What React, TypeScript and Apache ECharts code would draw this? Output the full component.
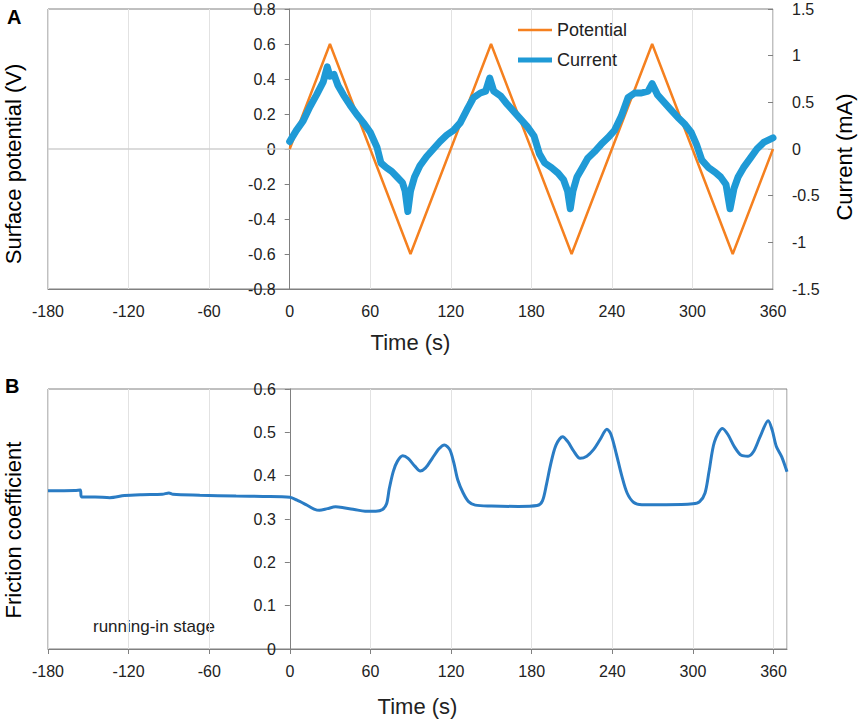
import React, { useEffect, useRef } from 'react';
import * as echarts from 'echarts';

// ---- Panel A data ----
const potentialTime = [0, 30, 90, 150, 210, 270, 330, 360];
const potentialValue = [0, 0.6, -0.6, 0.6, -0.6, 0.6, -0.6, 0];

const currentTime = [
  0, 5, 10, 15, 20, 25, 28, 30, 33, 36, 40, 45, 50, 55, 60, 65, 68, 72, 76, 80, 84, 86, 88, 90, 93, 97,
  102, 107, 112, 117, 122, 127, 132, 137, 142, 146, 149, 152, 157, 162, 167, 172, 177, 182, 186, 190,
  195, 200, 204, 207, 209, 211, 214, 218, 222, 227, 232, 237, 242, 247, 252, 257, 262, 267, 270, 274,
  279, 284, 289, 294, 299, 303, 307, 312, 317, 321, 325, 328, 331, 334, 338, 343, 348, 353, 360,
];
const currentValue = [
  0.08, 0.2, 0.3, 0.45, 0.58, 0.72, 0.88, 0.78, 0.8, 0.68, 0.58, 0.47, 0.37, 0.28, 0.18, 0.02, -0.15,
  -0.2, -0.24, -0.3, -0.36, -0.45, -0.67, -0.45, -0.3, -0.18, -0.08, 0.0, 0.08, 0.15, 0.2, 0.28, 0.42,
  0.55, 0.6, 0.62, 0.76, 0.62, 0.57, 0.48, 0.4, 0.32, 0.24, 0.14, -0.05, -0.15, -0.2, -0.26, -0.33,
  -0.45, -0.64, -0.45, -0.3, -0.2, -0.1, -0.03, 0.05, 0.12, 0.2, 0.35, 0.55, 0.6, 0.6, 0.62, 0.7,
  0.58, 0.5, 0.42, 0.34, 0.27, 0.18, 0.05, -0.12, -0.2, -0.25, -0.3, -0.38, -0.64, -0.42, -0.3, -0.2,
  -0.1, 0.0, 0.07, 0.12,
];

// ---- Panel B data ----
const frictionTime = [
  -180, -160, -156, -155, -145, -134, -123, -110, -95, -90, -87, -67, -40, -20, 0, 5, 12, 18, 22, 28,
  34, 40, 48, 56, 64, 69, 72, 74, 77, 80, 84, 88, 93, 97, 101, 106, 111, 115, 119, 122, 125, 129, 133,
  138, 150, 170, 184, 188, 191, 194, 198, 203, 207, 211, 216, 221, 226, 231, 236, 239, 243, 247, 251,
  256, 262, 280, 300, 305, 309, 312, 316, 322, 326, 331, 336, 341, 345, 350, 356, 359, 362, 366, 370,
];
const frictionValue = [
  0.365, 0.366, 0.367, 0.351, 0.351, 0.349, 0.354, 0.356, 0.357, 0.36, 0.357, 0.355, 0.353, 0.352,
  0.35, 0.344, 0.333, 0.323, 0.32, 0.324, 0.328, 0.326, 0.322, 0.318, 0.318, 0.322, 0.335, 0.37, 0.41,
  0.433, 0.446, 0.44, 0.422, 0.411, 0.418, 0.44, 0.462, 0.471, 0.46, 0.43, 0.39, 0.36, 0.34, 0.332,
  0.33, 0.329, 0.331, 0.342, 0.38, 0.425, 0.47, 0.49, 0.478, 0.458, 0.44, 0.445, 0.46, 0.484, 0.507,
  0.495, 0.45, 0.4, 0.36, 0.338, 0.333, 0.333, 0.335, 0.34, 0.36, 0.41, 0.478, 0.509, 0.495, 0.466,
  0.447, 0.445, 0.455, 0.49, 0.527, 0.505, 0.468, 0.444, 0.409,
];

const FONT = 'Liberation Sans, Arial, sans-serif';
const TEXT = '#222';
const AXIS = '#808080';
const GRIDC = '#e2e2e2';
const ORANGE = '#F5801F';
const BLUE = '#1F9AD6';

const fmt1 = (v: number) => (Math.abs(v) < 1e-9 ? '0' : String(Math.round(v * 10) / 10));

export default function App() {
  const ref = useRef<HTMLDivElement>(null);
  useEffect(() => {
    const chart = echarts.init(ref.current!, null, { renderer: 'svg' });
    const zip = (a: number[], b: number[]) => a.map((t, i) => [t, b[i]]);
    // offsets that move the left y-axes onto x = 0
    const topOffset = -(180 * 725) / 540;
    const botOffset = -(180 * 739) / 550;
    const legendText = { fontSize: 18, color: TEXT, fontFamily: FONT, lineHeight: 20 };
    const option: any = {
      animation: false,
      backgroundColor: '#fff',
      textStyle: { fontFamily: FONT },
      legend: [
        {
          data: [{ name: 'Potential', icon: 'rect' }],
          left: 518, top: 20, padding: 0,
          itemWidth: 34, itemHeight: 2.5,
          textStyle: legendText,
        },
        {
          data: [{ name: 'Current', icon: 'rect' }],
          left: 518, top: 50, padding: 0,
          itemWidth: 34, itemHeight: 5,
          textStyle: legendText,
        },
      ],
      grid: [
        { left: 48, top: 9, width: 725, height: 280, show: true, borderColor: AXIS, borderWidth: 1 },
        { left: 48, top: 389, width: 739, height: 260, show: true, borderColor: AXIS, borderWidth: 1 },
      ],
      xAxis: [
        {
          type: 'value', gridIndex: 0, min: -180, max: 360, interval: 60,
          axisLine: { onZero: false, lineStyle: { color: AXIS } },
          axisTick: { show: false },
          axisLabel: { fontSize: 16, color: TEXT, margin: 14, fontFamily: FONT },
          splitLine: { show: true, lineStyle: { color: GRIDC } },
          name: 'Time (s)', nameLocation: 'middle', nameGap: 42,
          nameTextStyle: { fontSize: 22, color: TEXT, fontFamily: FONT },
        },
        {
          type: 'value', gridIndex: 1, min: -180, max: 370, interval: 60,
          axisLine: { onZero: false, lineStyle: { color: AXIS } },
          axisTick: { show: true, length: 5, lineStyle: { color: AXIS } },
          axisLabel: { fontSize: 16, color: TEXT, margin: 14, showMaxLabel: false, fontFamily: FONT },
          splitLine: { show: true, lineStyle: { color: GRIDC } },
          name: 'Time (s)', nameLocation: 'middle', nameGap: 46,
          nameTextStyle: { fontSize: 22, color: TEXT, fontFamily: FONT },
        },
      ],
      yAxis: [
        {
          type: 'value', gridIndex: 0, min: -0.8, max: 0.8, interval: 0.2,
          position: 'left', offset: topOffset,
          axisLine: { show: true, onZero: false, lineStyle: { color: AXIS } },
          axisTick: { show: true, length: 5, lineStyle: { color: AXIS } },
          axisLabel: { fontSize: 16, color: TEXT, margin: 14, formatter: fmt1, fontFamily: FONT },
          splitLine: { show: false },
        },
        {
          type: 'value', gridIndex: 0, min: -1.5, max: 1.5, interval: 0.5, position: 'right',
          axisLine: { show: false, onZero: false },
          axisTick: { show: true, inside: true, length: 5, lineStyle: { color: AXIS } },
          axisLabel: { fontSize: 16, color: TEXT, margin: 19, formatter: fmt1, fontFamily: FONT },
          splitLine: { show: false },
        },
        {
          type: 'value', gridIndex: 1, min: 0, max: 0.6, interval: 0.1,
          position: 'left', offset: botOffset,
          axisLine: { show: true, onZero: false, lineStyle: { color: AXIS } },
          axisTick: { show: true, length: 5, lineStyle: { color: AXIS } },
          axisLabel: { fontSize: 16, color: TEXT, margin: 14, formatter: fmt1, fontFamily: FONT },
          splitLine: { show: false },
        },
      ],
      series: [
        {
          name: 'Potential', type: 'line', xAxisIndex: 0, yAxisIndex: 0,
          data: zip(potentialTime, potentialValue), symbol: 'none', z: 2,
          color: ORANGE, lineStyle: { width: 2.5, color: ORANGE },
          markLine: {
            silent: true, symbol: 'none', z: 1, label: { show: false },
            lineStyle: { color: '#cfcfcf', width: 1.5, type: 'solid' },
            data: [{ yAxis: 0 }],
          },
        },
        {
          name: 'Current', type: 'line', xAxisIndex: 0, yAxisIndex: 1,
          data: zip(currentTime, currentValue), symbol: 'none', z: 3,
          color: BLUE, lineStyle: { width: 7, color: BLUE, cap: 'round', join: 'round' },
        },
        {
          name: 'Friction', type: 'line', xAxisIndex: 1, yAxisIndex: 2,
          data: zip(frictionTime, frictionValue), symbol: 'none', smooth: 0.3, z: 3,
          color: '#2A7CC4', lineStyle: { width: 3, color: '#2A7CC4' },
        },
      ],
      graphic: [
        { type: 'text', left: 7, top: 7, style: { text: 'A', fontSize: 20, fontWeight: 'bold', fill: '#000', fontFamily: FONT } },
        { type: 'text', left: 5, top: 376, style: { text: 'B', fontSize: 20, fontWeight: 'bold', fill: '#000', fontFamily: FONT } },
        {
          type: 'text', x: 13, y: 164, rotation: Math.PI / 2,
          style: { text: 'Surface potential (V)', fontSize: 22, fill: '#000', fontFamily: FONT, textAlign: 'center', textVerticalAlign: 'middle' },
        },
        {
          type: 'text', x: 844, y: 157, rotation: Math.PI / 2,
          style: { text: 'Current (mA)', fontSize: 22, fill: '#000', fontFamily: FONT, textAlign: 'center', textVerticalAlign: 'middle' },
        },
        {
          type: 'text', x: 13, y: 530, rotation: Math.PI / 2,
          style: { text: 'Friction coefficient', fontSize: 22, fill: '#000', fontFamily: FONT, textAlign: 'center', textVerticalAlign: 'middle' },
        },
        {
          type: 'text', x: 93, y: 626,
          style: { text: 'running-in stage', fontSize: 17, fill: TEXT, fontFamily: FONT, textAlign: 'left', textVerticalAlign: 'middle' },
        },
      ],
    };
    chart.setOption(option);
    return () => chart.dispose();
  }, []);
  return (
    <div
      ref={ref}
      style={{ position: 'fixed', left: 0, top: 0, width: 858, height: 720, background: '#fff' }}
    />
  );
}
